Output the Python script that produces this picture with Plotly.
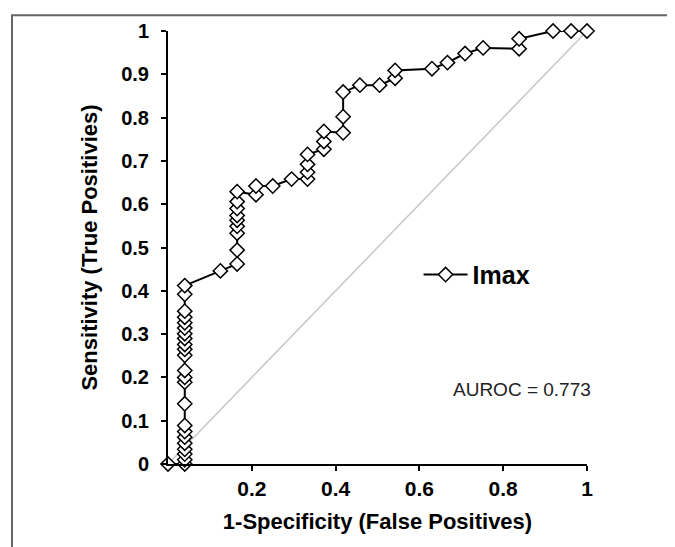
import plotly.graph_objects as go

# ROC curve points (1-Specificity, Sensitivity)
fpr = [0.0,
       0.04, 0.04, 0.04, 0.04, 0.04, 0.04, 0.04, 0.04, 0.04, 0.04, 0.04, 0.04,
       0.04, 0.04, 0.04, 0.04, 0.04, 0.04, 0.04, 0.04, 0.04, 0.04, 0.04,
       0.125,
       0.165, 0.165, 0.165, 0.165, 0.165, 0.165, 0.165, 0.165, 0.165,
       0.21, 0.21,
       0.25,
       0.295,
       0.333, 0.333, 0.333, 0.333,
       0.372, 0.372, 0.372,
       0.418, 0.418, 0.418,
       0.458,
       0.505,
       0.542, 0.542,
       0.63,
       0.667,
       0.709,
       0.752,
       0.838, 0.838,
       0.919,
       0.962,
       1.0]
tpr = [0.0,
       0.0, 0.01, 0.023, 0.034, 0.048, 0.062, 0.075, 0.089, 0.139, 0.189, 0.2, 0.216,
       0.251, 0.265, 0.276, 0.29, 0.301, 0.314, 0.326, 0.339, 0.353, 0.392, 0.412,
       0.446,
       0.462, 0.494, 0.533, 0.549, 0.563, 0.574, 0.59, 0.606, 0.629,
       0.622, 0.642,
       0.642,
       0.658,
       0.658, 0.674, 0.692, 0.715,
       0.727, 0.745, 0.768,
       0.765, 0.802, 0.859,
       0.875,
       0.875,
       0.891, 0.909,
       0.913,
       0.927,
       0.948,
       0.961,
       0.959, 0.982,
       1.0,
       1.0,
       1.0]

diag_x = [0, 1]
diag_y = [0, 1]

x_ticks = [0.2, 0.4, 0.6, 0.8, 1]
x_tick_labels = ["0.2", "0.4", "0.6", "0.8", "1"]
y_ticks = [0, 0.1, 0.2, 0.3, 0.4, 0.5, 0.6, 0.7, 0.8, 0.9, 1]
y_tick_labels = ["0", "0.1", "0.2", "0.3", "0.4", "0.5", "0.6", "0.7", "0.8", "0.9", "1"]

FONT = "Liberation Sans, Arial, sans-serif"

fig = go.Figure()
fig.add_trace(go.Scatter(x=diag_x, y=diag_y, mode="lines",
                         line=dict(color="#c8c8c8", width=1.5),
                         showlegend=False, hoverinfo="skip"))
fig.add_trace(go.Scatter(x=fpr, y=tpr, mode="lines+markers", name="Imax",
                         line=dict(color="black", width=2),
                         marker=dict(symbol="diamond", size=11, color="white",
                                     line=dict(color="black", width=1.5)),
                         cliponaxis=False))

W, H = 675, 547
# page offsets the figure by ~8px; plot area targeted at x 168..587, y 25..464
L, R, T, B = 160, 96, 17, 91
PW, PH = 419, 439

fig.update_layout(
    width=W, height=H,
    margin=dict(l=L, r=R, t=T, b=B),
    paper_bgcolor="white", plot_bgcolor="white",
    font=dict(family=FONT, color="black"),
    legend=dict(x=0.598, y=0.437, xanchor="left", yanchor="middle",
                bgcolor="rgba(0,0,0,0)", itemwidth=44,
                font=dict(family=FONT, size=25, weight="bold", color="black")),
    annotations=[dict(text="AUROC = 0.773", x=1.014, y=0.173, xref="paper", yref="paper",
                      xanchor="right", yanchor="middle", showarrow=False,
                      font=dict(family=FONT, size=19, color="#222"))],
    shapes=[dict(type="rect", xref="paper", yref="paper",
                 x0=(12 - 168) / PW, x1=(670 - 168) / PW,
                 y0=-0.4, y1=(464 - 9) / PH,
                 line=dict(color="#666", width=2), fillcolor="rgba(0,0,0,0)",
                 layer="below")],
)
fig.update_xaxes(range=[0, 1], tickvals=x_ticks, ticktext=x_tick_labels,
                 showgrid=False, zeroline=False, showline=True,
                 linecolor="black", linewidth=2, ticks="outside", ticklen=5,
                 tickwidth=2, tickcolor="black",
                 tickfont=dict(family=FONT, size=21, weight="bold"),
                 title=dict(text="1-Specificity (False Positives)", standoff=14,
                            font=dict(family=FONT, size=22, weight="bold")))
fig.update_yaxes(range=[0, 1], tickvals=y_ticks, ticktext=y_tick_labels,
                 showgrid=False, zeroline=False, showline=True,
                 linecolor="black", linewidth=2, ticks="outside", ticklen=5,
                 tickwidth=2, tickcolor="black", ticklabelstandoff=8,
                 tickfont=dict(family=FONT, size=20, weight="bold"),
                 title=dict(text="Sensitivity (True Positivies)", standoff=17,
                            font=dict(family=FONT, size=22, weight="bold")))

fig.write_html("out.html")
